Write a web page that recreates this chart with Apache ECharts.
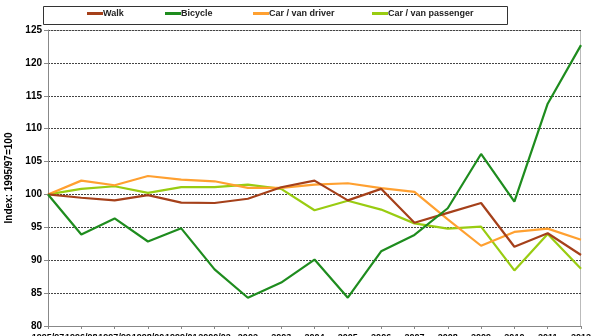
<!DOCTYPE html>
<html><head><meta charset="utf-8">
<script src="https://cdn.jsdelivr.net/npm/echarts@6/dist/echarts.min.js"></script>
<style>html,body{margin:0;padding:0;background:#fff}#c{width:597px;height:336px}</style>
</head><body><div id="c"></div>
<script>
const categories = ['1995/97','1996/98','1997/99','1998/00','1999/01','2000/02','2002','2003','2004','2005','2006','2007','2008','2009','2010','2011','2012'];
const walk = [100, 99.5, 99.1, 99.9, 98.75, 98.7, 99.35, 101.1, 102.1, 99.1, 100.85, 95.7, 97.2, 98.7, 92.05, 94.1, 90.8];
const bicycle = [100, 93.9, 96.35, 92.85, 94.85, 88.6, 84.3, 86.6, 90.1, 84.3, 91.35, 93.85, 97.9, 106.15, 98.9, 113.8, 122.7];
const carDriver = [100, 102.1, 101.4, 102.8, 102.25, 102, 101, 101, 101.5, 101.7, 100.95, 100.4, 96.2, 92.2, 94.3, 94.8, 93.1];
const carPassenger = [100, 100.85, 101.25, 100.25, 101.1, 101.1, 101.5, 100.85, 97.6, 99.05, 97.7, 95.6, 94.8, 95.1, 88.45, 94, 88.7];
const yTicks = [80, 85, 90, 95, 100, 105, 110, 115, 120, 125];

const names = ['Walk','Bicycle','Car / van driver','Car / van passenger'];
const colors = ['#A5401A','#1E8C1E','#FFA030','#99CC11'];
const datas = [walk, bicycle, carDriver, carPassenger];
const legendLeft = [87, 165, 253, 372];
const font = 'Liberation Sans, Arial, sans-serif';

const chart = echarts.init(document.getElementById('c'), null, {renderer:'canvas'});
chart.setOption({
  animation:false,
  backgroundColor:'#fff',
  graphic:[
    {type:'rect', shape:{x:43.5,y:6.5,width:464,height:18}, style:{fill:'none',stroke:'#333',lineWidth:1}, z:-1},
    {type:'rect', shape:{x:48.5,y:30.5,width:532,height:296}, style:{fill:'none',stroke:'#bbb',lineWidth:1}, z:-1}
  ],
  legend: names.map((n,i)=>({
    data:[n], left:legendLeft[i], top:9, padding:0, itemWidth:16, itemHeight:3, icon:'rect', itemGap:0,
    textStyle:{fontFamily:font,fontSize:9,fontWeight:'bold',color:'#222',padding:[0,0,0,-5]}
  })),
  grid:{left:48, right:16, top:30, bottom:10, containLabel:false, outerBoundsMode:'none'},
  xAxis:{type:'category', data:categories, boundaryGap:false,
    axisLine:{lineStyle:{color:'#888'}},
    axisTick:{show:true, alignWithLabel:true, length:3, lineStyle:{color:'#888'}},
    axisLabel:{interval:0, fontFamily:font, fontSize:9, fontWeight:'bold', color:'#000', margin:7, hideOverlap:false},
    splitLine:{show:false}},
  yAxis:{type:'value', min:yTicks[0], max:yTicks[yTicks.length-1], interval:5,
    name:'Index: 1995/97=100', nameLocation:'middle', nameGap:28, nameRotate:90,
    nameTextStyle:{fontFamily:font,fontSize:10,fontWeight:'bold',color:'#000'},
    axisLine:{show:true, lineStyle:{color:'#888'}},
    axisTick:{show:true, length:4, lineStyle:{color:'#888'}},
    axisLabel:{fontFamily:font, fontSize:10, fontWeight:'bold', color:'#000', margin:6},
    splitLine:{show:true, lineStyle:{color:'#444', type:[2,1], width:1}}},
  series: datas.map((d,i)=>({
    name:names[i], type:'line', data:d, symbol:'none', color:colors[i],
    lineStyle:{width:2.2,color:colors[i]}, z:[3,4,2,1][i]
  }))
});
</script></body></html>
